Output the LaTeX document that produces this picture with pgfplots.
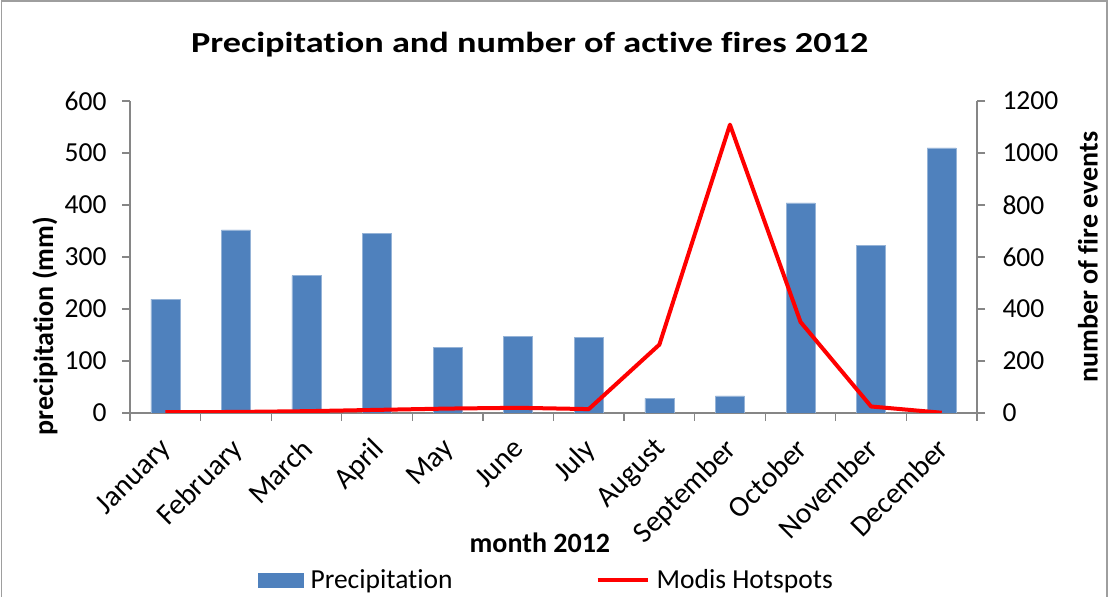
\documentclass[border=0pt]{standalone}
\usepackage{pgfplots}
\pgfplotsset{compat=1.18}
\usepackage{fontspec}
\setmainfont{Carlito}[Ligatures={NoCommon,NoContextual}]
\definecolor{barblue}{HTML}{4F81BD}
\definecolor{axgray}{HTML}{868686}
\newcommand\tk{\fontsize{27.5}{30}\selectfont}
\newcommand\xk{\fontsize{29.5}{30}\selectfont}
\newcommand\lb{\fontsize{28}{30}\selectfont\bfseries}
\pgfplotstableread{
x prec
1 219
2 352
3 264
4 346
5 126
6 147
7 145
8 28
9 33
10 404
11 323
12 510
}\prectable
\pgfplotstableread{
x fires
1 3
2 4
3 7
4 12
5 17
6 20
7 15
8 263
9 1109
10 350
11 25
12 1
}\firetable
\begin{document}
\begin{tikzpicture}[x=1pt,y=1pt]
\useasboundingbox (0,0) rectangle (1120,597);
\draw[axgray!80, line width=1.5pt] (1.5,-5) -- (1.5,596) -- (1107,596) -- (1107,-5);
\pgfplotsset{
  common/.style={
    scale only axis, width=847pt, height=312pt,
    at={(130pt,184pt)}, anchor=south west,
    xmin=0.5, xmax=12.5,
    axis line style={axgray, line width=1.2pt},
    tick style={axgray, line width=1.2pt},
    tick align=outside, major tick length=8pt, minor tick length=8pt,
    /pgf/number format/assume math mode=true,
    /pgf/number format/1000 sep={},
    tick label style={font=\tk},
  }
}
\begin{axis}[common,
  axis y line*=left, axis x line*=bottom,
  ymin=0, ymax=600, ytick={0,100,...,600},
  yticklabel style={xshift=-12pt},
  xtick={1,...,12},
  xticklabels={January,February,March,April,May,June,July,August,September,October,November,December},
  major x tick style={draw=none},
  minor xtick={0.5,1.5,...,12.5},
  x tick label style={rotate=45, anchor=north east, xshift=-12pt, yshift=-3pt, font=\xk},
  xlabel={\lb month 2012},
  xlabel style={at={(axis description cs:0.484,-0.417)}, anchor=center},
  ylabel={\lb precipitation (mm)},
  ylabel style={at={(axis description cs:-0.1004,0.279)}, anchor=center, rotate=0},
  title={\scalebox{1.25}[1]{\fontsize{29}{30}\selectfont\bfseries Precipitation and number of active fires 2012}},
  title style={at={(axis description cs:0.472,1.163)}, anchor=center},
  ybar, bar width=29pt,
]
\addplot[fill=barblue, draw=barblue!60!white, line width=0.5pt] table[x=x, y=prec] {\prectable};
\end{axis}
\begin{axis}[common,
  axis y line*=right, axis x line=none,
  ymin=0, ymax=1200, ytick={0,200,...,1200},
  yticklabel style={xshift=14pt},
  ylabel={\lb number of fire events},
  ylabel style={at={(axis description cs:1.131,0.5)}, anchor=center},
  legend style={at={(axis description cs:0.1511,-0.535)}, anchor=west,
    legend columns=2, draw=none, fill=none, inner sep=0pt, font=\tk,
    /tikz/every odd column/.append style={column sep=5pt},
    /tikz/every even column/.append style={column sep=141pt}},
]
\addlegendimage{legend image code/.code={\fill[barblue] (0pt,-7pt) rectangle (45pt,7pt);}}
\addlegendentry{Precipitation}
\addplot[red, line width=4pt, line join=round,
  legend image code/.code={\draw[red, line width=4pt] (0pt,0pt) -- (50pt,0pt);}]
  table[x=x, y=fires] {\firetable};
\addlegendentry{Modis Hotspots}
\end{axis}
\end{tikzpicture}
\end{document}
